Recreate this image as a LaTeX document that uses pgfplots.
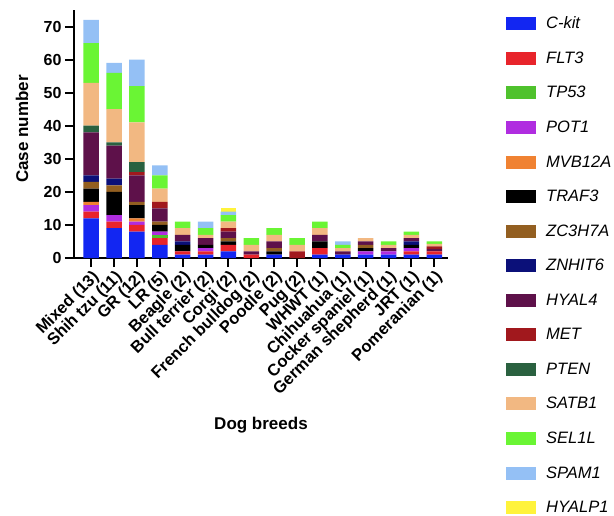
\documentclass[border=0pt]{standalone}
\usepackage{pgfplots}
\usepackage{pgfplotstable}
\pgfplotsset{compat=1.18}
\usepackage{fontspec}
\setmainfont{Liberation Sans}
\setsansfont{Liberation Sans}

\definecolor{ckit}{HTML}{1226F2}
\definecolor{flt3}{HTML}{E8242B}
\definecolor{tp53}{HTML}{4FC22D}
\definecolor{pot1}{HTML}{B02DE0}
\definecolor{mvb}{HTML}{F08232}
\definecolor{traf}{HTML}{000000}
\definecolor{zc}{HTML}{935F21}
\definecolor{zn}{HTML}{0B1079}
\definecolor{hyalf}{HTML}{5E114A}
\definecolor{met}{HTML}{A1181D}
\definecolor{pten}{HTML}{2A6140}
\definecolor{satb}{HTML}{F2B882}
\definecolor{sel}{HTML}{6AF534}
\definecolor{spam}{HTML}{94C0F5}
\definecolor{hyalp}{HTML}{FFF33B}

\pgfplotstableread{
x ckit flt3 tp53 pot1 mvb traf zc zn hyalf met pten satb sel spam hyalp
0 12 2 0 2 1 4 2 2 13 0 2 13 12 7 0
1 9 2 0 2 0 7 2 2 10 0 1 10 11 3 0
2 8 2 0 1 1 4 1 0 8 1 3 12 11 8 0
3 4 2 1 1 0 2 1 0 4 2 0 4 4 3 0
4 1 1 0 0 0 2 0 1 2 0 0 2 2 0 0
5 1 1 0 1 0 1 0 0 2 0 0 1 2 2 0
6 2 2 0 0 0 1 1 0 2 1 0 2 2 1 1
7 0 1 0 0 0 0 0 0 1 0 0 2 2 0 0
8 1 0 0 0 0 1 1 0 2 0 0 2 2 0 0
9 0 0 0 0 0 0 0 0 0 2 0 2 2 0 0
10 1 2 0 0 0 2 0 0 2 0 0 2 2 0 0
11 1 0 0 0 0 0 0 0 1 0 0 1 1 1 0
12 1 0 0 1 0 1 1 0 1 0 0 1 0 0 0
13 1 0 0 1 0 0 0 0 1 0 0 1 1 0 0
14 1 1 0 1 0 1 0 1 1 0 0 1 1 0 0
15 1 1 0 0 0 0 0 0 0.75 0.75 0 0.75 0.75 0 0
}\data

\begin{document}
\begin{tikzpicture}
\useasboundingbox (-74pt,-257pt) rectangle (540pt,258pt);
\begin{axis}[
  at={(0,0)}, anchor=south west,
  scale only axis, width=374pt, height=248pt,
  ybar stacked, bar width=15.5pt,
  xmin=-0.75, xmax=15.6, ymin=0, ymax=75,
  axis lines=left,
  axis line style={-, line width=2.4pt},
  tick align=outside, major tick length=9pt,
  tick style={line width=2pt, black},
  xtick={0,...,15},
  xticklabels={Mixed (13), Shih tzu (11), GR (12), LR (5), Beagle (2), Bull terrier (2), Corgi (2), French bulldog (2), Poodle (2), Pug (2), WHWT (1), Chihuahua (1), Cocker spaniel (1), German shepherd (1), JRT (1), Pomeranian (1)},
  ytick={0,10,...,70},
  /pgf/number format/assume math mode=true,
  x tick label style={rotate=45, anchor=north east, font=\bfseries\fontsize{16.5}{19}\selectfont, inner sep=1.5pt},
  y tick label style={font=\bfseries\fontsize{16}{19}\selectfont},
  ylabel={Case number},
  ylabel style={at={(axis description cs:-0.139,0.52)}, anchor=center, font=\bfseries\fontsize{17}{20}\selectfont},
  xlabel={Dog breeds},
  xlabel style={at={(axis description cs:0.5,-0.675)}, anchor=center, font=\bfseries\fontsize{17}{20}\selectfont},
  legend style={draw=none, fill=none, at={(1.147,0.99)}, anchor=north west,
    font=\itshape\fontsize{16.5}{19}\selectfont, row sep=17.6pt,
    /tikz/every odd column/.style={column sep=8pt}},
  legend cell align=left,
  legend image code/.code={\fill[#1] (0pt,-6.5pt) rectangle (30pt,6.5pt);},
]
\addplot[fill=ckit, draw=none] table[x=x,y=ckit]{\data};
\addplot[fill=flt3, draw=none] table[x=x,y=flt3]{\data};
\addplot[fill=tp53, draw=none] table[x=x,y=tp53]{\data};
\addplot[fill=pot1, draw=none] table[x=x,y=pot1]{\data};
\addplot[fill=mvb, draw=none] table[x=x,y=mvb]{\data};
\addplot[fill=traf, draw=none] table[x=x,y=traf]{\data};
\addplot[fill=zc, draw=none] table[x=x,y=zc]{\data};
\addplot[fill=zn, draw=none] table[x=x,y=zn]{\data};
\addplot[fill=hyalf, draw=none] table[x=x,y=hyalf]{\data};
\addplot[fill=met, draw=none] table[x=x,y=met]{\data};
\addplot[fill=pten, draw=none] table[x=x,y=pten]{\data};
\addplot[fill=satb, draw=none] table[x=x,y=satb]{\data};
\addplot[fill=sel, draw=none] table[x=x,y=sel]{\data};
\addplot[fill=spam, draw=none] table[x=x,y=spam]{\data};
\addplot[fill=hyalp, draw=none] table[x=x,y=hyalp]{\data};
\legend{C-kit,FLT3,TP53,POT1,MVB12A,TRAF3,ZC3H7A,ZNHIT6,HYAL4,MET,PTEN,SATB1,SEL1L,SPAM1,HYALP1}
\end{axis}
\end{tikzpicture}
\end{document}
